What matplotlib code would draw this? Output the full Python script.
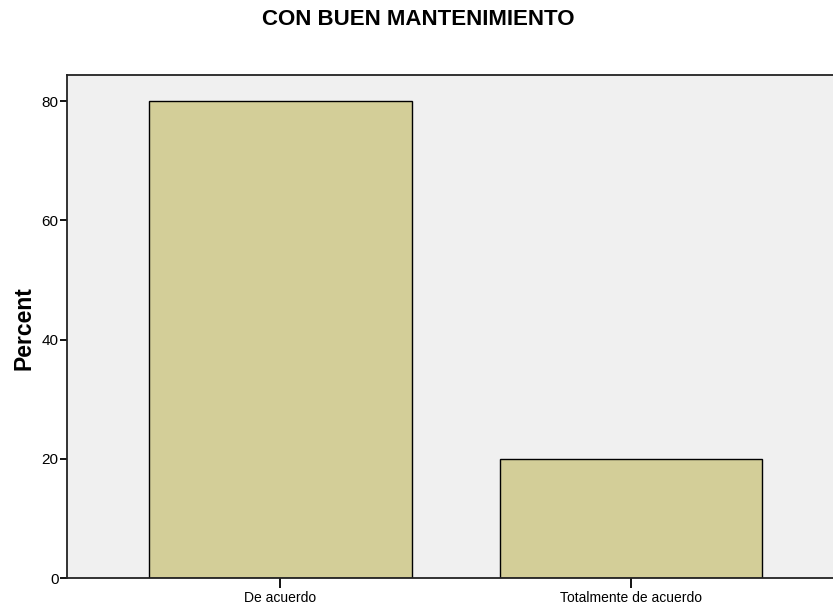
import matplotlib.pyplot as plt

categories = ['De acuerdo', 'Totalmente de acuerdo']
percent = [80.0, 20.0]

plt.rcParams['font.family'] = ['Liberation Sans', 'DejaVu Sans']

fig = plt.figure(figsize=(8.33, 6.09), dpi=100)
ax = fig.add_axes([67 / 833, 1 - 578 / 609, 1 - 67 / 833 + 0.01, (578 - 75) / 609])
ax.set_facecolor('#F0F0F0')

x = list(range(len(categories)))
ax.bar(x, percent, width=0.749, color='#D3CE98', edgecolor='black', linewidth=1.0, zorder=2)

ax.set_xlim(-0.6086, 1.60)
ax.set_ylim(0, 84.4)
ax.set_xticks(x)
ax.set_xticklabels(categories, fontsize=10)
ax.set_yticks([0, 20, 40, 60, 80])
ax.tick_params(axis='y', length=5, width=1.3, labelsize=11, pad=1)
ax.tick_params(axis='x', length=7, width=1.3, pad=2)

for s in ax.spines.values():
    s.set_linewidth(1.3)
    s.set_color('#222222')
ax.spines['right'].set_visible(False)

# y label placed in figure pixels
fig.text(23.5 / 833, 1 - 328 / 609, 'Percent', rotation=90, ha='center', va='center',
         fontsize=16.5, fontweight='bold')
fig.text(418 / 833, 1 - 19.5 / 609, 'CON BUEN MANTENIMIENTO', ha='center', va='center',
         fontsize=16, fontweight='bold')

fig.savefig('out.png', dpi=100)
